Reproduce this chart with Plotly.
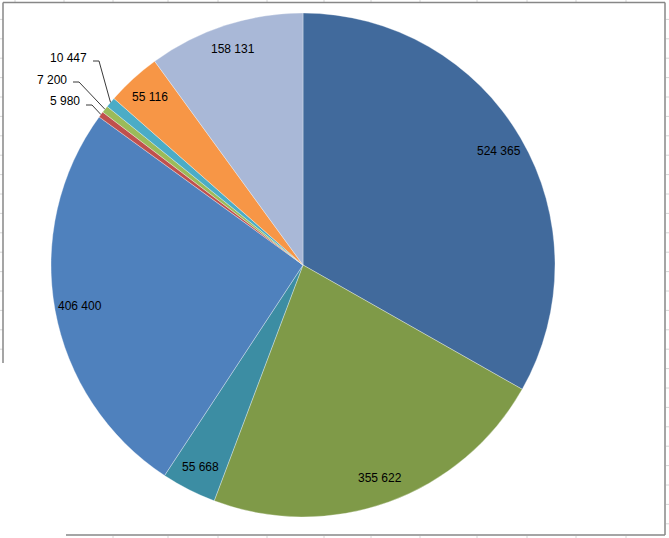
import math
import plotly.graph_objects as go

# ---- data ----
values = [524365, 355622, 55668, 406400, 5980, 7200, 10447, 55116, 158131]
labels = ["524 365", "355 622", "55 668", "406 400", "5 980", "7 200", "10 447", "55 116", "158 131"]
colors = ["#416A9C", "#7F9A48", "#3C8DA3", "#4F81BD", "#C0504D", "#9BBB59", "#4BACC6", "#F79646", "#A9B8D7"]
outside = [False, False, False, False, True, True, True, False, False]

W, H = 669, 538
CX, CY, R = 303, 265, 252

def px(x):
    return x / W

def py(y):
    return 1 - y / H

fig = go.Figure(go.Pie(
    values=values,
    labels=labels,
    sort=False,
    direction="clockwise",
    rotation=0,
    marker=dict(colors=colors, line=dict(color="rgba(255,255,255,0.55)", width=0.6)),
    textinfo="none",
    hoverinfo="label+value",
    showlegend=False,
    domain=dict(x=[px(CX - R), px(CX + R)], y=[py(CY + R), py(CY - R)]),
))

total = sum(values)
annotations = []
shapes = []
font = dict(family="Liberation Sans, Arial", size=12, color="#000")

# outside label placement (text right end, text y) and elbow y
out_pos = {4: (82, 101), 5: (69, 80), 6: (89, 58)}
out_line_y = {4: 105, 5: 82, 6: 61}

cum = 0.0
for i, v in enumerate(values):
    a0 = cum / total * 360
    cum += v
    a1 = cum / total * 360
    mid = math.radians((a0 + a1) / 2)
    if not outside[i]:
        r = 0.9 * R
        x = CX + r * math.sin(mid)
        y = CY - r * math.cos(mid)
        annotations.append(dict(x=px(x), y=py(y), xref="paper", yref="paper",
                                xanchor="center", yanchor="middle",
                                text=labels[i], showarrow=False, font=font))
    else:
        ex = CX + R * math.sin(mid)
        ey = CY - R * math.cos(mid)
        tx, ty = out_pos[i]
        ly = out_line_y[i]
        annotations.append(dict(x=px(tx), y=py(ty), xref="paper", yref="paper",
                                xanchor="right", yanchor="middle",
                                text=labels[i], showarrow=False, font=font))
        x0 = tx + 4
        x1 = tx + 10
        shapes.append(dict(type="path", xref="paper", yref="paper",
                           path=f"M {px(x0)} {py(ly)} L {px(x1)} {py(ly)} L {px(ex)} {py(ey)}",
                           line=dict(color="#3a3a3a", width=1)))

# spreadsheet grid remnants and chart border
grid = "#D6D6D6"
border = "#878787"
cols = [15, 64, 113, 168, 218, 267, 324, 371, 420, 477, 527, 576, 626]
for c in cols:
    shapes.append(dict(type="line", xref="paper", yref="paper", x0=px(c), x1=px(c), y0=py(0), y1=py(2),
                       line=dict(color=grid, width=1)))
    if c > 66:
        shapes.append(dict(type="line", xref="paper", yref="paper", x0=px(c), x1=px(c), y0=py(536), y1=py(538),
                           line=dict(color=grid, width=1)))
k = 1
while 19.4 * k < 536:
    yy = 19.4 * k
    shapes.append(dict(type="line", xref="paper", yref="paper", x0=px(666), x1=px(669), y0=py(yy), y1=py(yy),
                       line=dict(color=grid, width=1)))
    if yy < 362:
        shapes.append(dict(type="line", xref="paper", yref="paper", x0=px(0), x1=px(3), y0=py(yy), y1=py(yy),
                           line=dict(color=grid, width=1)))
    k += 1

for (x0, y0, x1, y1) in [(3, 2.5, 665, 2.5), (3, 2.5, 3, 363), (665, 2.5, 665, 535), (66, 535, 665, 535)]:
    shapes.append(dict(type="line", xref="paper", yref="paper", x0=px(x0), x1=px(x1), y0=py(y0), y1=py(y1),
                       line=dict(color=border, width=1.5)))

fig.update_layout(
    width=W, height=H,
    margin=dict(l=0, r=0, t=0, b=0),
    paper_bgcolor="white",
    plot_bgcolor="white",
    annotations=annotations,
    shapes=shapes,
)

fig.write_html("out.html")
